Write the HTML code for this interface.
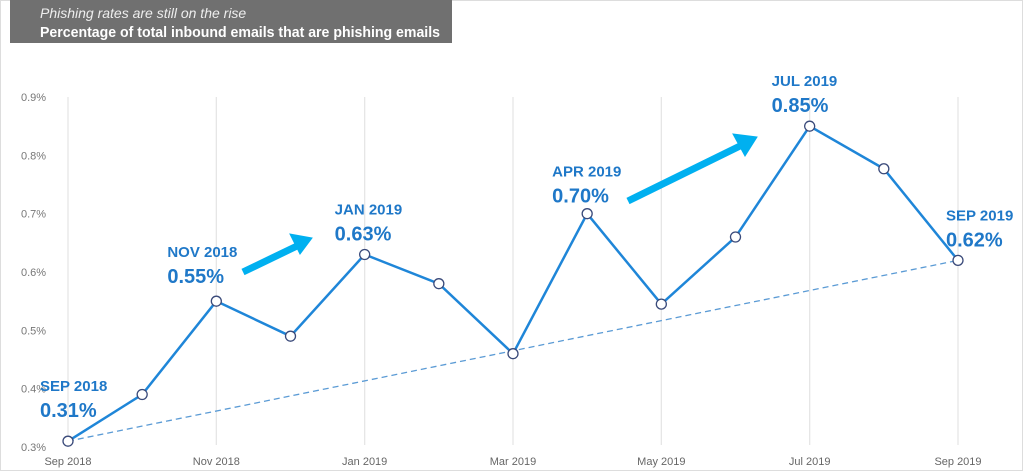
<!DOCTYPE html>
<html><head><meta charset="utf-8"><style>
body{margin:0;background:#fff;font-family:"Liberation Sans",sans-serif}
#wrap{position:relative;width:1024px;height:473px;overflow:hidden}
</style></head><body>
<div id="wrap">
<svg width="1024" height="473" id="svg">
<rect x="0.5" y="0.5" width="1022" height="470" fill="none" stroke="#ddd"/>
<rect x="10" y="0" width="442" height="43" fill="#707070"/>
<text x="40" y="18" fill="#eee" font-size="14" font-style="italic">Phishing rates are still on the rise</text>
<text x="40" y="37" fill="#fff" font-size="14.5" font-weight="bold" textLength="400" lengthAdjust="spacingAndGlyphs">Percentage of total inbound emails that are phishing emails</text>
<g id="grid"></g><g id="yt"></g><g id="xt"></g>
<line id="trend" stroke="#5b9bd5" stroke-width="1.3" stroke-dasharray="6,4"/>
<polyline id="line" fill="none" stroke="#1f86d8" stroke-width="2.5"/>
<g id="pts"></g>
<g fill="#00b0f0" stroke="#00b0f0">
<line x1="243" y1="272" x2="297" y2="246" stroke-width="7"/>
<polygon points="312,238 290,234 300,254"/>
<line x1="628" y1="201" x2="740" y2="146" stroke-width="7"/>
<polygon points="757,137 733,134 745,156"/>
</g>
<g id="ann" fill="#1f78c8" font-weight="bold"></g>
</svg>
</div>
<script>
const months=["Sep 2018","Oct 2018","Nov 2018","Dec 2018","Jan 2019","Feb 2019","Mar 2019","Apr 2019","May 2019","Jun 2019","Jul 2019","Aug 2019","Sep 2019"];
const values=[0.31,0.39,0.55,0.49,0.63,0.58,0.46,0.70,0.545,0.66,0.85,0.777,0.62];
const yTicks=[0.3,0.4,0.5,0.6,0.7,0.8,0.9];
const callouts=[[0,"SEP 2018","0.31%"],[2,"NOV 2018","0.55%"],[4,"JAN 2019","0.63%"],[7,"APR 2019","0.70%"],[10,"JUL 2019","0.85%"],[12,"SEP 2019","0.62%"]];
const NS="http://www.w3.org/2000/svg";
const x=i=>68+i*(890/12), y=v=>447-(v-0.3)*583.3;
function mk(p,t,a){const e=document.createElementNS(NS,t);for(const k in a)e.setAttribute(k,a[k]);document.getElementById(p).appendChild(e);return e;}
yTicks.forEach(v=>{const t=mk("yt","text",{x:21,y:y(v)+4,"font-size":11,fill:"#777"});t.textContent=v.toFixed(1)+"%";

});
months.forEach((m,i)=>{if(i%2)return;
const g=mk("grid","line",{x1:x(i),x2:x(i),y1:y(0.9),y2:y(0.3)-2,stroke:"#e6e6e6","stroke-width":1.3});


const t=mk("xt","text",{x:x(i),y:465,"font-size":11,fill:"#666","text-anchor":"middle"});t.textContent=m;

});
const tr=document.getElementById("trend");
tr.setAttribute("x1",x(0));tr.setAttribute("y1",y(values[0]));tr.setAttribute("x2",x(12));tr.setAttribute("y2",y(values[12]));
document.getElementById("line").setAttribute("points",values.map((v,i)=>x(i)+","+y(v)).join(" "));
values.forEach((v,i)=>{const c=mk("pts","circle",{cx:x(i),cy:y(v),r:5,fill:"#fff",stroke:"#3a4a7a","stroke-width":1.3});

});
const off={0:[-28,-50],2:[-49,-44],4:[-30,-40],7:[-35,-37],10:[-38,-40],12:[-12,-40]};
callouts.forEach(([i,m,p])=>{const o=off[i];const bx=x(i)+o[0],by=y(values[i])+o[1];
const a=mk("ann","text",{x:bx,y:by,"font-size":15});a.textContent=m;


const b=mk("ann","text",{x:bx,y:by+26,"font-size":20});b.textContent=p;

});
</script>
</body></html>
